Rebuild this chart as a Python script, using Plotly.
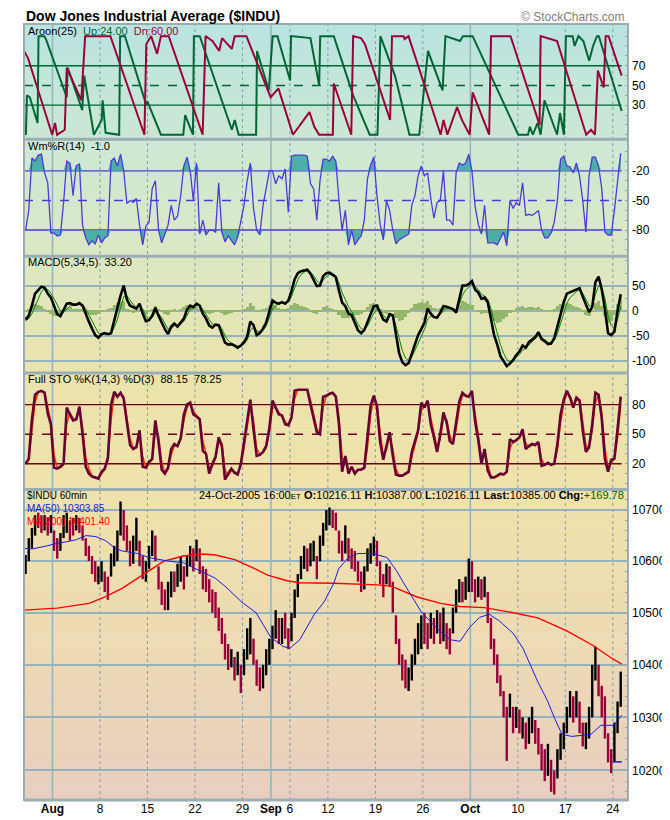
import plotly.graph_objects as go
import numpy as np

# x axis = trading days counted from the open of Wed 27-Jul-2005 (7 hourly bars a day)
tick_days = [3, 8, 13, 18, 23, 26, 28, 32, 37, 42, 47, 52, 57, 62]
tick_labels = ["<b>Aug</b>", "8", "15", "22", "29", "<b>Sep</b>", "6", "12", "19", "26", "<b>Oct</b>", "10", "17", "24"]
month_days = [3, 26, 47]

# Aroon(25) turning points
aroon_up_t = [0.0, 0.2, 0.31, 0.61, 1.43, 1.53, 2.15, 2.35, 4.50, 4.60, 6.13, 6.34, 7.36, 8.18, 8.28, 8.59, 10.02, 10.12, 10.63,
              12.88, 12.98, 14.42, 16.77, 16.97, 17.79, 17.89, 18.51, 21.88, 22.19, 22.60, 24.44, 24.54, 25.77, 26.18, 26.69,
              28.02, 28.12, 30.16, 31.08, 31.19, 32.62, 34.66, 36.40, 37.22, 37.53, 39.06, 40.59, 41.62, 42.54, 44.07, 44.38,
              45.91, 46.22, 47.24, 52.04, 53.07, 53.27, 53.58, 54.09, 54.40, 54.81, 56.13, 56.44, 56.85, 57.06, 57.77, 57.98,
              58.38, 58.90, 59.51, 59.92, 60.33, 60.53, 62.93]
aroon_up = [3, 0, 40, 38, 12, 100, 100, 96, 38, 68, 25, 60, 0, 15, 35, 2, 0, 100, 100, 30,
            34, 0, 0, 20, 0, 100, 100, 5, 15, 0, 0, 85, 45, 100, 100, 55, 100, 98, 50, 100,
            100, 40, 0, 0, 100, 60, 0, 0, 85, 45, 100, 95, 100, 100, 0, 0, 8, 0, 12, 0,
            35, 0, 22, 0, 100, 100, 90, 100, 95, 75, 90, 100, 100, 24]
aroon_dn_t = [0.0, 0.41, 2.97, 3.27, 3.48, 4.29, 4.50, 6.03, 6.44, 9.10, 12.68, 12.88, 13.39, 14.01, 14.42, 15.24, 18.81,
              19.12, 19.84, 20.55, 20.86, 21.88, 22.19, 23.42, 25.97, 26.79, 28.32, 30.06, 30.57, 31.08, 32.52, 32.62,
              34.46, 34.66, 35.48, 35.89, 38.55, 38.75, 39.98, 40.08, 40.49, 43.87, 44.17, 44.58, 45.60, 46.11, 46.93,
              47.24, 48.98, 49.18, 51.23, 54.29, 54.40, 56.13, 59.20, 59.71, 60.12, 60.43, 61.04, 61.25, 61.55, 62.93]
aroon_dn = [85, 78, 0, 12, 0, 5, 68, 35, 100, 100, 0, 92, 100, 82, 100, 100, 0, 100, 95, 85,
            98, 87, 100, 100, 38, 47, 0, 23, 8, 0, 0, 52, 0, 100, 98, 92, 15, 100, 100, 97,
            100, 0, 15, 0, 28, 15, 0, 43, 0, 100, 100, 10, 100, 95, 0, 5, 0, 65, 48, 100,
            100, 60]

# three readings per trading day
wmr = [-80, -60, -7, -10, -4, -3, -22, -32, -83, -83, -86, -85, -52, -10, -12, -45, -15, -13, -75, -88,
       -95, -91, -94, -85, -93, -88, -86, -10, -7, -15, -3, -20, -53, -50, -52, -48, -75, -95, -76, -72,
       -38, -30, -80, -93, -84, -75, -55, -70, -66, -45, -15, -6, -20, -50, -12, -84, -70, -85, -80, -80,
       -82, -32, -82, -92, -86, -91, -95, -87, -72, -55, -30, -12, -58, -80, -85, -55, -38, -20, -20, -33,
       -25, -28, -18, -62, -5, -4, -4, -4, -4, -5, -33, -38, -70, -30, -8, -8, -10, -5, -10, -50,
       -80, -60, -95, -80, -95, -90, -86, -70, -28, -14, -6, -45, -74, -90, -50, -60, -80, -94, -90, -88,
       -86, -84, -55, -45, -25, -15, -25, -22, -48, -68, -52, -50, -20, -70, -70, -75, -22, -12, -14, -12,
       -3, -20, -56, -74, -84, -55, -93, -93, -93, -95, -88, -82, -96, -50, -58, -52, -55, -32, -65, -64,
       -65, -63, -60, -80, -88, -88, -83, -72, -50, -8, -5, -15, -16, -22, -12, -25, -50, -82, -25, -6,
       -6, -15, -38, -82, -85, -85, -60, -28, -2]
macd = [-18, -10, 10, 34, 41, 48, 46, 34, 26, 10, -7, -11, 1, 14, 15, 12, 12, 15, 10, -7,
        -22, -36, -49, -54, -47, -45, -47, -45, -19, 1, 30, 50, 22, 10, 7, 4, 14, -6, -21, -19,
        -10, 6, -10, -24, -37, -47, -32, -26, -32, -24, -16, 2, 10, 7, 14, 10, -6, -16, -30, -34,
        -28, -29, -45, -64, -68, -67, -70, -74, -70, -63, -52, -22, -29, -49, -45, -36, -24, -2, 20, 16,
        14, 17, 14, 20, 39, 63, 75, 79, 81, 82, 74, 62, 49, 50, 69, 75, 76, 72, 67, 40,
        16, 9, -6, -9, -26, -39, -45, -39, -23, -7, 9, 10, -4, -18, -22, -7, -9, -49, -85, -103,
        -109, -105, -86, -66, -49, -37, -24, 4, -6, -13, -14, -4, 9, 8, 5, 3, -4, 24, 50, 50,
        53, 59, 42, 36, 24, 26, 17, -16, -49, -68, -91, -101, -111, -106, -99, -89, -82, -70, -74, -63,
        -57, -53, -43, -57, -61, -67, -66, -55, -32, -8, 17, 34, 37, 39, 43, 45, 28, 12, -3, 7,
        57, 68, 43, 3, -45, -49, -42, -1, 33]
macd_signal = [-20, -16, -6, 10, 26, 38, 44, 42, 35, 24, 12, 0, -3, 3, 9, 12, 12, 13, 12, 4,
               -8, -20, -34, -45, -48, -47, -47, -46, -34, -18, 6, 28, 30, 20, 12, 7, 10, 3, -10, -16,
               -14, -4, -6, -14, -25, -37, -36, -30, -30, -27, -21, -10, 2, 6, 10, 11, 3, -7, -18, -27,
               -28, -28, -36, -50, -60, -65, -68, -71, -71, -67, -59, -40, -33, -40, -43, -40, -31, -15, 3, 11,
               13, 15, 15, 17, 28, 46, 62, 72, 77, 80, 77, 70, 60, 54, 61, 68, 72, 72, 70, 55,
               36, 22, 8, -1, -14, -27, -36, -38, -31, -18, -5, 3, 0, -9, -16, -12, -10, -30, -57, -80,
               -95, -100, -93, -80, -64, -51, -38, -17, -11, -12, -13, -8, 0, 4, 5, 4, 0, 12, 31, 41,
               47, 53, 48, 42, 33, 29, 23, 4, -22, -45, -68, -85, -98, -102, -100, -94, -88, -79, -76, -69,
               -63, -58, -50, -54, -58, -63, -65, -60, -46, -27, -5, 15, 26, 33, 38, 42, 35, 23, 10, 8,
               32, 50, 46, 25, -10, -30, -36, -18, 8]
macd_hist = [-3, 2, 8, 12, 10, 8, 3, -4, -8, -12, -12, -8, -2, 5, 6, 3, 2, 3, 1, -5,
             -8, -10, -10, -8, -2, 0, 2, 4, 10, 14, 16, 18, 3, -4, -5, -4, 2, -4, -7, -4,
             2, 8, 2, -4, -8, -10, -2, 2, 0, 3, 6, 10, 8, 5, 6, 3, -4, -6, -8, -6,
             -2, -1, -6, -10, -8, -5, -4, -4, -1, 3, 6, 14, 8, -3, -2, 2, 5, 10, 14, 8,
             4, 3, 2, 4, 10, 14, 12, 9, 6, 4, -2, -6, -8, -3, 6, 8, 5, 2, -2, -10,
             -16, -16, -15, -10, -10, -10, -8, -2, 6, 12, 15, 12, 2, -6, -8, -2, -4, -15, -22, -20,
             -14, -6, 4, 12, 15, 16, 15, 18, 10, 5, 2, 5, 8, 5, 3, 2, 0, 10, 18, 16,
             12, 10, 0, -4, -8, -6, -6, -14, -22, -25, -24, -18, -14, -6, -2, 4, 6, 8, 5, 6,
             6, 5, 6, 2, 0, -2, -1, 3, 8, 12, 16, 15, 12, 8, 6, 4, -4, -10, -12, -4,
             14, 18, 8, -12, -25, -22, -10, 12, 25]
sto_k = [20, 25, 65, 90, 93, 94, 92, 71, 60, 16, 15, 17, 20, 77, 70, 64, 65, 78, 50, 17,
         10, 7, 6, 5, 12, 15, 26, 80, 93, 88, 92, 86, 62, 39, 35, 37, 54, 17, 16, 22,
         25, 64, 42, 14, 10, 16, 35, 40, 38, 46, 70, 80, 82, 70, 68, 65, 33, 30, 10, 20,
         27, 47, 38, 4, 10, 15, 11, 9, 20, 42, 60, 85, 55, 28, 29, 32, 38, 56, 84, 76,
         70, 69, 60, 59, 67, 94, 95, 95, 95, 95, 80, 66, 52, 50, 88, 89, 91, 92, 88, 60,
         12, 28, 10, 17, 10, 14, 14, 16, 45, 79, 89, 78, 42, 24, 38, 52, 28, 9, 8, 8,
         10, 12, 32, 44, 54, 82, 77, 84, 60, 47, 32, 50, 72, 62, 43, 40, 60, 83, 92, 89,
         88, 94, 63, 44, 20, 35, 13, 6, 6, 8, 10, 9, 12, 45, 42, 44, 47, 55, 35, 38,
         40, 39, 42, 18, 19, 21, 19, 20, 40, 70, 85, 94, 87, 77, 87, 84, 54, 32, 37, 60,
         92, 90, 66, 25, 12, 24, 25, 55, 88]
sto_d = [21, 24, 53, 82, 92, 94, 93, 77, 63, 29, 16, 16, 19, 60, 72, 66, 65, 74, 58, 27,
         15, 8, 6, 5, 10, 14, 23, 64, 89, 90, 91, 88, 69, 46, 36, 36, 49, 28, 16, 20,
         24, 52, 49, 22, 11, 14, 29, 38, 39, 44, 63, 77, 81, 74, 69, 66, 43, 31, 16, 17,
         25, 41, 41, 14, 8, 13, 12, 10, 17, 35, 55, 78, 64, 36, 29, 31, 36, 51, 76, 78,
         72, 69, 63, 59, 65, 86, 95, 95, 95, 95, 85, 70, 56, 51, 77, 89, 90, 92, 89, 68,
         26, 23, 15, 15, 12, 13, 14, 15, 36, 69, 86, 81, 53, 29, 34, 48, 35, 15, 8, 8,
         9, 11, 26, 40, 51, 74, 78, 82, 67, 51, 36, 45, 65, 65, 49, 41, 54, 76, 89, 90,
         88, 92, 72, 50, 27, 30, 20, 8, 6, 7, 9, 9, 11, 35, 43, 43, 46, 53, 41, 37,
         39, 39, 41, 25, 19, 20, 20, 20, 34, 61, 81, 91, 89, 80, 84, 85, 63, 39, 35, 53,
         82, 90, 73, 37, 16, 20, 25, 46, 78]

# price bars, three per day (low, high, U = closed up)
bar_low = [10575, 10600, 10625, 10650, 10665, 10655, 10660, 10650, 10655, 10620, 10605, 10620, 10645, 10655, 10640,
           10650, 10660, 10655, 10640, 10610, 10600, 10575, 10560, 10555, 10560, 10540, 10525, 10570, 10590, 10600,
           10650, 10640, 10620, 10590, 10595, 10620, 10590, 10565, 10560, 10585, 10610, 10600, 10545, 10515, 10505,
           10505, 10530, 10540, 10550, 10560, 10545, 10570, 10590, 10580, 10600, 10575, 10545, 10540, 10520, 10500,
           10490, 10465, 10440, 10410, 10390, 10395, 10370, 10380, 10346, 10380, 10410, 10420, 10400, 10360, 10350,
           10355, 10380, 10400, 10430, 10450, 10440, 10440, 10450, 10430, 10445, 10490, 10530, 10565, 10585, 10580,
           10590, 10600, 10565, 10600, 10630, 10660, 10670, 10665, 10660, 10615, 10600, 10615, 10600, 10585, 10580,
           10560, 10540, 10545, 10580, 10595, 10610, 10590, 10555, 10530, 10555, 10550, 10500, 10440, 10400, 10370,
           10355, 10350, 10370, 10400, 10420, 10430, 10440, 10430, 10450, 10440, 10460, 10440, 10445, 10430, 10420,
           10460, 10500, 10520, 10520, 10525, 10540, 10540, 10520, 10530, 10525, 10530, 10480, 10430, 10400, 10365,
           10340, 10300, 10218, 10300, 10270, 10280, 10270, 10260, 10240, 10250, 10270, 10250, 10230, 10200, 10180,
           10190, 10160, 10155, 10185, 10220, 10240, 10270, 10300, 10290, 10300, 10270, 10245, 10240, 10260, 10300,
           10370, 10340, 10300, 10260, 10215, 10195, 10216, 10270, 10320]
bar_high = [10612, 10645, 10665, 10690, 10695, 10690, 10690, 10685, 10690, 10660, 10645, 10655, 10690, 10695, 10680,
            10685, 10690, 10685, 10670, 10645, 10630, 10610, 10600, 10590, 10600, 10580, 10570, 10615, 10630, 10660,
            10717, 10700, 10670, 10640, 10650, 10685, 10640, 10610, 10600, 10630, 10660, 10650, 10590, 10560, 10545,
            10560, 10580, 10580, 10595, 10610, 10590, 10610, 10630, 10625, 10642, 10625, 10590, 10585, 10565, 10545,
            10540, 10510, 10490, 10460, 10440, 10430, 10415, 10425, 10400, 10430, 10470, 10490, 10450, 10410, 10395,
            10400, 10430, 10450, 10475, 10505, 10490, 10490, 10500, 10470, 10500, 10545, 10575, 10610, 10630, 10625,
            10635, 10640, 10610, 10650, 10675, 10700, 10705, 10700, 10695, 10660, 10640, 10670, 10645, 10625, 10620,
            10600, 10580, 10590, 10625, 10635, 10648, 10640, 10600, 10575, 10595, 10590, 10560, 10495, 10450, 10420,
            10410, 10395, 10420, 10450, 10480, 10495, 10500, 10480, 10500, 10490, 10505, 10500, 10510, 10480, 10470,
            10510, 10545, 10565, 10560, 10570, 10605, 10600, 10565, 10570, 10565, 10570, 10540, 10490, 10450, 10420,
            10380, 10350, 10320, 10345, 10320, 10320, 10315, 10300, 10290, 10300, 10320, 10295, 10280, 10250, 10240,
            10250, 10220, 10200, 10240, 10270, 10290, 10320, 10350, 10340, 10350, 10330, 10290, 10290, 10320, 10400,
            10435, 10400, 10360, 10340, 10270, 10240, 10290, 10330, 10387]
bar_dir = ("UUU UDD UDU DDU UUD DUD DDD DDU UDD UUU UDD DUU DDU UUD DDD UUD UUD UUD UDD DDD "
           "DDD DDU DUD UUU DDD UUU UUD UDD UUU UUD UUD UUU UDD DDU DDD DDU UUU DDD UDD DDD "
           "DUU UUU DDU DUD UDD UUU DUU DDU DUD DDD DDD UDU DUD UUD DDD UDD UUU UUD UDD UUU "
           "UDD DDD UUU").replace(" ", "")
day_low = 10216.11

# moving averages, turning points
ma50_t = [0.0, 0.92, 2.45, 3.48, 4.50, 5.52, 6.54, 7.57, 8.59, 9.61, 10.33, 11.96, 13.19, 15.24, 16.77, 18.51, 20.14,
          21.37, 22.90, 24.44, 25.97, 27.30, 28.02, 29.04, 30.57, 31.60, 32.62, 33.13, 34.15, 35.17, 36.71, 38.24,
          39.26, 40.29, 41.82, 43.35, 44.89, 45.91, 46.93, 47.96, 48.98, 50.00, 51.53, 52.56, 54.09, 55.11, 55.83,
          56.65, 57.67, 59.71, 60.74, 62.07, 62.93]
ma50 = [10625, 10624, 10630, 10635, 10638, 10642, 10650, 10648, 10640, 10625, 10620, 10615, 10607, 10600, 10597,
        10582, 10567, 10548, 10521, 10500, 10453, 10435, 10432, 10448, 10497, 10521, 10557, 10585, 10607, 10615,
        10615, 10607, 10580, 10548, 10502, 10472, 10448, 10445, 10472, 10491, 10497, 10485, 10460, 10431, 10368,
        10332, 10300, 10268, 10264, 10268, 10285, 10285, 10303.85]
ma200_t = [0.0, 3.48, 6.85, 8.59, 10.33, 12.68, 14.72, 16.77, 18.81, 20.14, 22.19, 24.23, 25.66, 27.71, 29.04, 32.62,
           37.22, 38.75, 41.31, 43.87, 45.91, 48.47, 51.53, 54.09, 57.16, 59.92, 60.94, 61.76, 62.93]
ma200 = [10505, 10509, 10518, 10531, 10547, 10576, 10600, 10610, 10614, 10612, 10603, 10586, 10573, 10562, 10558,
         10557, 10554, 10551, 10531, 10518, 10512, 10510, 10500, 10490, 10465, 10437, 10424, 10414, 10401.40]

t_grid = (np.arange(len(wmr)) + 0.5) / 3

# ---- geometry (pixels of the 670x820 page) ----
W, H = 670, 820
L, R, T, B = 16, 638, 16, 803
panels = [(16, 133), (133, 251.5), (251.5, 370), (370, 488), (488, 803)]
X_END = 63.6


def py(p):
    return (B - p) / (B - T)


def px(p):
    return (p - L) / (R - L)


fig = go.Figure()

# Aroon
fig.add_trace(go.Scatter(x=aroon_up_t, y=aroon_up, mode="lines", line=dict(color="#006633", width=2), xaxis="x", yaxis="y"))
fig.add_trace(go.Scatter(x=aroon_dn_t, y=aroon_dn, mode="lines", line=dict(color="#99003a", width=2), xaxis="x", yaxis="y"))

# Williams %R with filled extremes
wmr_a = np.array(wmr, dtype=float)
teal = "rgba(70,170,165,0.95)"
fig.add_trace(go.Scatter(x=t_grid, y=np.full(len(wmr_a), -20.0), mode="lines", line=dict(width=0), xaxis="x2", yaxis="y2"))
fig.add_trace(go.Scatter(x=t_grid, y=np.maximum(wmr_a, -20), mode="lines", line=dict(width=0), fill="tonexty", fillcolor=teal, xaxis="x2", yaxis="y2"))
fig.add_trace(go.Scatter(x=t_grid, y=np.full(len(wmr_a), -80.0), mode="lines", line=dict(width=0), xaxis="x2", yaxis="y2"))
fig.add_trace(go.Scatter(x=t_grid, y=np.minimum(wmr_a, -80), mode="lines", line=dict(width=0), fill="tonexty", fillcolor=teal, xaxis="x2", yaxis="y2"))
fig.add_trace(go.Scatter(x=t_grid, y=wmr, mode="lines", line=dict(color="#5038dc", width=1.3), xaxis="x2", yaxis="y2"))

# MACD
fig.add_trace(go.Bar(x=t_grid, y=macd_hist, width=0.34, marker=dict(color="#93b66a", line=dict(width=0)), xaxis="x3", yaxis="y3"))
fig.add_trace(go.Scatter(x=t_grid, y=macd_signal, mode="lines", line=dict(color="#008a00", width=1), xaxis="x3", yaxis="y3"))
fig.add_trace(go.Scatter(x=t_grid, y=macd, mode="lines", line=dict(color="black", width=2.6), xaxis="x3", yaxis="y3"))

# Full stochastics
fig.add_trace(go.Scatter(x=t_grid, y=sto_d, mode="lines", line=dict(color="#ff3300", width=1.4), xaxis="x4", yaxis="y4"))
fig.add_trace(go.Scatter(x=t_grid, y=sto_k, mode="lines", line=dict(color="#660033", width=2.6), xaxis="x4", yaxis="y4"))

# price bars
for flag, colour in [("U", "black"), ("D", "#99003a")]:
    xs, ys = [], []
    for t, lo, hi, d in zip(t_grid, bar_low, bar_high, bar_dir):
        if d == flag:
            xs += [t, t, None]
            ys += [lo, hi, None]
    fig.add_trace(go.Scatter(x=xs, y=ys, mode="lines", line=dict(color=colour, width=2.4), xaxis="x5", yaxis="y5"))
fig.add_trace(go.Scatter(x=ma200_t, y=ma200, mode="lines", line=dict(color="#ff0000", width=1.4), xaxis="x5", yaxis="y5"))
fig.add_trace(go.Scatter(x=ma50_t, y=ma50, mode="lines", line=dict(color="#1a1add", width=1), xaxis="x5", yaxis="y5"))
fig.add_trace(go.Scatter(x=[tick_days[-1], X_END], y=[day_low, day_low], mode="lines",
                         line=dict(color="#1a1add", width=1.5, dash="dash"), xaxis="x5", yaxis="y5"))

# ---- axes ----
grid_c = "#93b3bd"
y_specs = [
    dict(range=[-4.7, 112.3], tickvals=[70, 50, 30], minor=list(range(0, 101, 10))),
    dict(range=[-106.5, 12], tickvals=[-20, -50, -80], minor=list(range(-100, 1, 10))),
    dict(range=[-124.9, 108.9], tickvals=[50, 0, -50, -100], minor=list(range(-100, 101, 25)), grid=True),
    dict(range=[-6, 112], tickvals=[80, 50, 20], minor=list(range(0, 101, 10))),
    dict(range=[4.006241, 4.031036], tickvals=[10700, 10600, 10500, 10400, 10300, 10200],
         minor=list(range(10160, 10741, 20)), grid=True, log=True),
]
layout_axes = {}
for k, ((top, bot), spec) in enumerate(zip(panels, y_specs), start=1):
    sfx = "" if k == 1 else str(k)
    layout_axes["xaxis" + sfx] = dict(
        domain=[0, 1], range=[0, X_END], anchor="y" + sfx, showgrid=False, zeroline=False,
        showticklabels=(k == 5), ticks="",
        tickvals=tick_days if k == 5 else None, ticktext=tick_labels if k == 5 else None,
        tickfont=dict(size=12, color="black"),
    )
    layout_axes["yaxis" + sfx] = dict(
        domain=[py(bot), py(top)], range=spec["range"], anchor="x" + sfx, side="right",
        type="log" if spec.get("log") else "linear",
        tickvals=spec["tickvals"], ticktext=[str(v) for v in spec["tickvals"]],
        tickfont=dict(size=12, color="black"), ticks="", ticklabelstandoff=3,
        showgrid=spec.get("grid", False), gridcolor=grid_c, gridwidth=1.5, zeroline=False,
        mirror="ticks",
        minor=dict(tickvals=spec["minor"], ticks="inside", ticklen=3, tickcolor="#8aa4ac", showgrid=False),
    )

# ---- shapes ----
shapes = []
# soft vertical colour ramp behind the panels
stops_px = [16, 133, 251, 370, 488, 650, 803]
stops_rgb = np.array([(186, 228, 224), (204, 232, 212), (220, 232, 196), (234, 228, 172), (240, 226, 170),
                      (238, 218, 180), (232, 206, 192)])
for y0 in np.arange(T, B, 3):
    c = [int(np.interp(y0 + 1.5, stops_px, stops_rgb[:, j])) for j in range(3)]
    shapes.append(dict(type="rect", xref="paper", yref="paper", x0=0, x1=1, y0=py(min(y0 + 3.5, B)), y1=py(y0),
                       fillcolor=f"rgb({c[0]},{c[1]},{c[2]})", line=dict(width=0), layer="below"))
# vertical date grid
for d in tick_days:
    solid = d in month_days
    shapes.append(dict(type="line", xref="x", yref="paper", x0=d, x1=d, y0=0, y1=1, layer="below",
                       line=dict(color=grid_c if solid else "#7fa0b2", width=1.5 if solid else 1,
                                 dash="solid" if solid else "dot")))
# indicator reference levels
levels = [("y", 70, "#006633", "solid"), ("y", 50, "#006633", "dash"), ("y", 30, "#006633", "solid"),
          ("y2", -20, "#5038dc", "solid"), ("y2", -50, "#5038dc", "dash"), ("y2", -80, "#5038dc", "solid"),
          ("y4", 80, "#6a0010", "solid"), ("y4", 50, "#6a0010", "dash"), ("y4", 20, "#6a0010", "solid")]
for yref, v, col, dash in levels:
    shapes.append(dict(type="line", xref="x", yref=yref, x0=0, x1=62.93, y0=v, y1=v, layer="below",
                       line=dict(color=col, width=1.4, dash=dash)))
# panel separators and frame
frame_c = "#9aaeb3"
for top, bot in panels[1:]:
    shapes.append(dict(type="line", xref="paper", yref="paper", x0=0, x1=1, y0=py(top), y1=py(top),
                       line=dict(color=frame_c, width=3), layer="above"))
shapes.append(dict(type="rect", xref="paper", yref="paper", x0=0, x1=1, y0=0, y1=1,
                   line=dict(color=frame_c, width=2), layer="above"))
shapes.append(dict(type="line", xref="paper", yref="paper", x0=0, x1=1, y0=0, y1=0,
                   line=dict(color=frame_c, width=3), layer="above"))


# ---- texts ----
def note(text, x, y, size=11, anchor="left", color="black", yanchor="middle"):
    return dict(text=text, xref="paper", yref="paper", x=px(x), y=py(y), xanchor=anchor, yanchor=yanchor,
                showarrow=False, font=dict(size=size, color=color), align="left")


green, maroon = "#006633", "#99003a"
annotations = [
    note("<b>Dow Jones Industrial Average ($INDU)</b>", 16, 8, size=14),
    note("© StockCharts.com", 637, 9, size=12, anchor="right", color="#808080"),
    note(f"Aroon(25)  <span style='color:{green}'>Up:24.00</span>  <span style='color:{maroon}'>Dn:60.00</span>", 18, 23),
    note("Wm%R(14)  -1.0", 18, 140),
    note("MACD(5,34,5)  33.20", 18, 257.5),
    note("Full STO %K(14,3) %D(3)  88.15  78.25", 18, 376),
    note("$INDU 60min<br><span style='color:#1a1add'>MA(50) 10303.85</span><br>"
         "<span style='color:#ff0000'>MA(200) 10401.40</span>", 17, 487, size=10, yanchor="top"),
    note("24-Oct-2005 16:00<span style='font-size:8px'>ET</span> <b>O:</b>10216.11 <b>H:</b>10387.00 "
         "<b>L:</b>10216.11 <b>Last:</b>10385.00 <b>Chg:</b><span style='color:#006600'>+169.78</span>",
         636, 493.5, anchor="right"),
]

fig.update_layout(
    width=W, height=H,
    margin=dict(l=L, r=W - R, t=T, b=H - B),
    paper_bgcolor="white", plot_bgcolor="rgba(0,0,0,0)",
    showlegend=False, bargap=0,
    font=dict(family="Liberation Sans, Arial, sans-serif", size=11, color="black"),
    shapes=shapes, annotations=annotations,
    **layout_axes,
)

fig.write_html("out.html")
